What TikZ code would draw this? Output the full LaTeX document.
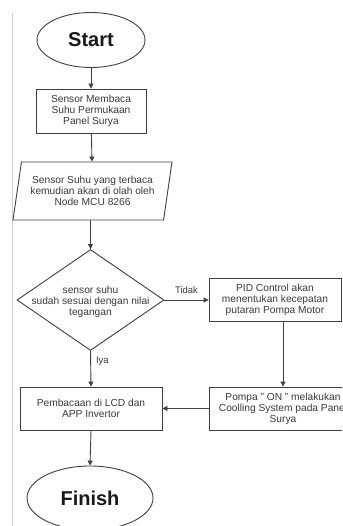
\documentclass[tikz,border=0pt]{standalone}
\usepackage{fontspec}
\setmainfont{Liberation Sans}
\usetikzlibrary{shapes.geometric,arrows.meta,calc}
\definecolor{ln}{HTML}{404040}
\definecolor{tx}{HTML}{3A3A3A}
\tikzset{
  every node/.style={text=tx, font=\fontsize{10.2}{11}\selectfont, align=center, inner sep=0pt},
  term/.style={draw=ln, line width=0.9pt, ellipse, font=\fontsize{20}{22}\selectfont\bfseries, text=black!90},
  procbox/.style={draw=ln, line width=0.9pt, rectangle},
  iobox/.style={draw=ln, line width=0.9pt, trapezium, trapezium left angle=74, trapezium right angle=106, trapezium stretches body},
  decis/.style={draw=ln, line width=0.9pt, diamond},
  flow/.style={draw=ln, line width=0.9pt, -{Triangle[length=5pt,width=5pt]}},
  plain/.style={draw=ln, line width=0.9pt},
  lbl/.style={font=\fontsize{9.5}{11}\selectfont}
}
\begin{document}
\begin{tikzpicture}[x=1pt,y=-1pt]
\useasboundingbox (0,0) rectangle (342,526);
\clip (0,0) rectangle (342,526);
\fill[white] (0,0) rectangle (342,526);
\draw[black!18, line width=0.6pt] (12.5,13) -- (12.5,526);

\node[term, minimum width=108, minimum height=55] (start) at (91,40) {Start};
\node[procbox, minimum width=110, minimum height=44] (s1) at (91,111) {Sensor Membaca\\Suhu Permukaan\\Panel Surya};
\node[iobox, minimum width=159, minimum height=58] (s2) at (92.5,191) {Sensor Suhu yang terbaca\\kemudian akan di olah oleh\\Node MCU 8266};
\node[decis, minimum width=147, minimum height=101,
  label={[yshift=-2pt, font=\fontsize{10.2}{11}\selectfont, align=center]center:sensor suhu\\sudah sesuai dengan nilai\\tegangan}] (d) at (90.5,300) {};
\node[procbox, minimum width=132, minimum height=43] (pid) at (275,299.5) {PID Control akan\\menentukan kecepatan\\putaran Pompa Motor};
\node[procbox, minimum width=148, minimum height=43] (pompa) at (283,408.5) {Pompa \char34\ ON \char34\ melakukan\\Coolling System pada Panel\\Surya};
\node[procbox, minimum width=142, minimum height=43] (lcd) at (91,408.5) {Pembacaan di LCD dan\\APP Invertor};
\node[term, minimum width=126, minimum height=64] (fin) at (90,498) {Finish};

\draw[flow] (start) -- (s1);
\draw[flow] (s1) -- (s2);
\draw[flow] (s2.south -| d.north) -- (d.north);
\draw[flow] (d.east) -- node[lbl, above=6pt] {Tidak} (pid.west |- d.east);
\draw[flow] (pompa.north |- pid.south) -- (pompa.north);
\draw[flow] (pompa.west) -- (lcd.east);
\draw[flow] (d.south) -- node[lbl, right=5pt, pos=0.3] {Iya} (lcd.north);
\draw[flow] (lcd.south) -- (fin.north);
\end{tikzpicture}
\end{document}
